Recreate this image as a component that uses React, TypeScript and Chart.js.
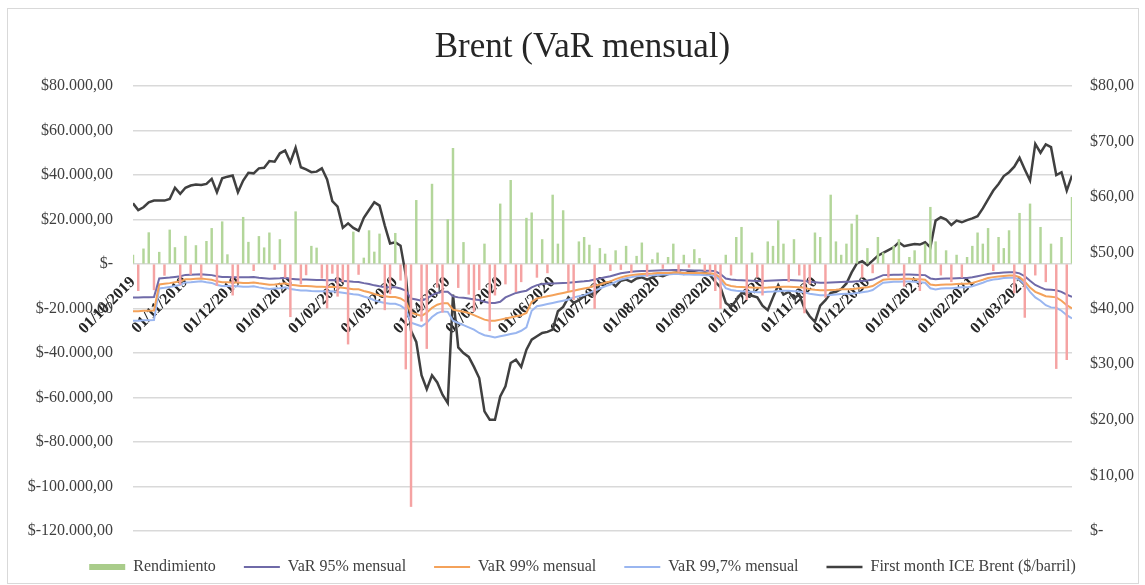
import React, { useEffect, useRef } from 'react';
import { Chart, registerables } from 'chart.js';

Chart.register(...registerables);

// Month tick labels (first day of each month)
const monthLabels = [
  '01/10/2019', '01/11/2019', '01/12/2019', '01/01/2020', '01/02/2020', '01/03/2020',
  '01/04/2020', '01/05/2020', '01/06/2020', '01/07/2020', '01/08/2020', '01/09/2020',
  '01/10/2020', '01/11/2020', '01/12/2020', '01/01/2021', '01/02/2021', '01/03/2021',
];

// 10 samples per month, Oct 2019 .. Mar 2021
const rendimiento = [
  4000, -12000, 6800, 14100, -11600, 5300, -5100, 15300, 7400, -9200,
  12500, -4700, 8300, -6200, 10200, 16000, -9700, 19000, 4200, -14000,
  -8000, 21000, 9800, -3000, 12400, 7300, 14000, -2500, 11000, -6000,
  -23700, 23500, -9000, -4900, 8000, 7200, -6400, -19800, -4200, -14500,
  -8000, -36000, 14400, -4700, 2700, 15000, 5400, 13500, -20600, -13400,
  13800, -7300, -47200, -109000, 28600, -25700, -38000, 35900, -10500, -21700,
  20000, 52000, -10600, 9700, -13600, -21400, -11600, 9000, -30000, -14000,
  27000, -9000, 37600, -12500, -8000, 20600, 23000, -6000, 11000, -4000,
  31000, 9000, 24000, -12000, -16000, 10000, 12000, 8500, -20000, 7000,
  4500, -3000, 6000, -2500, 8000, -4000, 3500, 9500, -5500, 2000,
  5000, -2000, 3000, 9000, -3500, 4000, -1500, 6500, 2500, -3000,
  -4000, -12000, -20000, 4000, -5000, 12000, 16500, -16000, 5000, -6000,
  -14000, 10000, 8000, 19500, 9000, -8000, 11000, -5000, -22000, -9000,
  14000, 12000, -15000, 31000, 10000, 4000, 9000, 18000, 22000, -6000,
  7000, -4000, 12000, 5000, -6000, 8000, 11000, -10000, 3000, 6000,
  -12000, 9000, 25500, 10000, -5000, 6000, -8000, 4000, -6000, 3000,
  8000, 14000, 9000, 16000, -3000, 12000, 7000, 15000, -13000, 22800,
  -24000, 27000, -5000, 16500, -8000, 9000, -47000, 12000, -43000, 30000,
];

const var95 = [
  -15000, -15000, -14900, -14900, -14800, -6500, -6300, -6100, -5800, -5500,
  -4900, -4800, -4700, -4600, -4800, -5000, -5500, -5800, -5800, -5900,
  -5900, -6000, -6000, -5900, -6200, -6400, -6600, -6500, -6400, -6200,
  -6600, -6800, -7000, -7000, -7100, -7200, -7200, -7300, -7200, -7400,
  -7600, -7800, -8000, -8100, -8600, -9000, -9600, -10000, -10300, -10500,
  -10500, -11000, -12000, -15500, -16000, -16500, -15500, -14000, -13000, -12500,
  -12500, -14500, -15000, -15200, -15500, -16000, -16200, -17000, -17500, -17500,
  -17000, -15000, -14000, -13000, -12500, -12000, -10500, -9500, -9000, -8800,
  -8800, -8600, -8500, -8400, -8200, -8000, -7800, -7500, -7000, -6500,
  -6000, -5500, -4800, -4200, -3800, -3500, -3300, -3200, -3100, -3000,
  -2900, -2800, -2800, -2700, -2700, -2800, -2800, -2900, -2900, -3000,
  -3000, -3200, -4500, -6500, -7000, -7200, -7300, -7400, -7500, -7600,
  -7600, -7500, -7400, -7300, -7200, -7200, -7300, -7400, -7600, -8000,
  -8200, -8400, -8400, -8300, -8200, -8100, -8000, -8000, -7800, -7600,
  -7400, -7000, -6000, -5000, -4900, -4800, -4800, -4700, -4700, -4800,
  -4900, -5000, -6500, -6800, -6600, -6500, -6500, -6400, -6300, -6300,
  -6000, -5500, -5000, -4500, -4200, -4000, -3800, -3700, -3700, -4200,
  -5500, -7500, -9400, -10500, -11500, -11600, -11800, -12500, -13800, -14800,
];

const var99 = [
  -21200, -21200, -21000, -21000, -20900, -9200, -8900, -8600, -8200, -7800,
  -6900, -6800, -6600, -6500, -6800, -7100, -7800, -8200, -8200, -8300,
  -8300, -8500, -8500, -8300, -8700, -9000, -9300, -9200, -9000, -8700,
  -9300, -9600, -9900, -9900, -10000, -10200, -10200, -10300, -10200, -10400,
  -10700, -11000, -11300, -11400, -12100, -12700, -13500, -14100, -14500, -14800,
  -14800, -15500, -16900, -21900, -22600, -23300, -21900, -19700, -18300, -17600,
  -17600, -20500, -21000, -21500, -22000, -23000, -24000, -25000, -25500, -25500,
  -25000, -24500, -24000, -23500, -23000, -22000, -17000, -15500, -15000, -14500,
  -14000, -13500, -13000, -12500, -12000, -11500, -11000, -10500, -9800, -9200,
  -8400, -7800, -6800, -6000, -5400, -5000, -4700, -4500, -4400, -4300,
  -4100, -4000, -4000, -3800, -3800, -4000, -4000, -4100, -4100, -4200,
  -4200, -4500, -6300, -9200, -9900, -10200, -10300, -10400, -10600, -10700,
  -10700, -10600, -10400, -10300, -10200, -10200, -10300, -10400, -10700, -11300,
  -11600, -11800, -11800, -11700, -11600, -11400, -11300, -11300, -11000, -10700,
  -10400, -9900, -8500, -7100, -6900, -6800, -6800, -6600, -6600, -6800,
  -6900, -7100, -9200, -9600, -9300, -9200, -9200, -9000, -8900, -8900,
  -8500, -7800, -7100, -6300, -5900, -5600, -5400, -5200, -5200, -5900,
  -7800, -10600, -12500, -13500, -14500, -14700, -15000, -16500, -18500, -20000,
];

const var997 = [
  -25500, -25500, -25300, -25300, -25200, -11000, -10700, -10300, -9900, -9400,
  -8300, -8200, -8000, -7800, -8200, -8500, -9400, -9900, -9900, -10000,
  -10000, -10200, -10200, -10000, -10500, -10900, -11200, -11000, -10900, -10500,
  -11200, -11600, -11900, -11900, -12100, -12200, -12200, -12400, -12200, -12600,
  -12900, -13300, -13600, -13800, -14600, -15300, -16300, -17000, -17500, -17900,
  -17900, -18700, -20400, -26400, -27200, -28000, -26400, -23800, -22100, -21300,
  -21500, -25500, -26500, -27500, -28500, -29500, -31000, -32000, -32500, -33000,
  -32500, -32000, -31500, -31000, -30000, -28500, -21000, -19000, -18500, -18000,
  -17500, -17000, -16500, -16000, -15000, -14500, -14000, -13000, -12000, -11000,
  -10000, -9200, -8000, -7000, -6400, -5900, -5500, -5300, -5200, -5100,
  -4900, -4700, -4700, -4500, -4500, -4700, -4700, -4800, -4800, -5000,
  -5000, -5300, -7500, -10900, -11700, -12000, -12200, -12400, -12500, -12700,
  -12700, -12500, -12400, -12200, -12000, -12000, -12200, -12400, -12700, -13400,
  -13700, -14000, -14000, -13900, -13700, -13500, -13400, -13400, -13000, -12700,
  -12400, -11700, -10000, -8400, -8200, -8000, -8000, -7900, -7900, -8000,
  -8200, -8400, -10900, -11400, -11000, -10900, -10900, -10700, -10500, -10500,
  -10000, -9200, -8400, -7500, -7000, -6700, -6300, -6200, -6200, -7000,
  -9200, -12500, -15000, -16500, -18500, -19500, -19700, -21000, -23000, -24500,
];

const brent = [
  58.9, 57.7, 58.2, 59.1, 59.4, 59.4, 59.4, 59.7, 61.7, 60.6,
  61.7, 62.1, 62.3, 62.2, 62.4, 63.3, 60.9, 63.4, 63.7, 63.9,
  60.9, 63.0, 64.4, 64.3, 65.2, 65.3, 66.5, 66.4, 67.9, 68.4,
  66.3, 68.9, 65.4, 65.0, 64.5, 64.6, 65.2, 63.2, 59.3, 58.3,
  54.5, 55.3, 54.5, 54.0, 56.3, 57.7, 59.1, 58.5, 54.9, 51.7,
  51.9, 51.3, 46.0, 36.0, 34.0, 28.0, 25.5, 28.0, 26.7, 24.5,
  23.0, 42.5, 33.0, 32.0, 31.3, 29.5, 27.5, 21.5, 20.0, 20.0,
  24.2, 26.0, 30.2, 30.8, 29.5, 32.6, 34.4, 35.0, 35.6, 35.8,
  36.2, 39.5, 40.3, 42.0, 41.0, 41.5, 42.2, 42.8, 42.3, 44.5,
  44.5, 44.8, 44.0, 45.0, 45.2, 44.8, 45.4, 45.6, 45.2, 45.6,
  46.0, 45.8, 46.2, 46.4, 46.5, 46.2, 46.6, 46.5, 46.3, 46.4,
  46.0, 44.8, 43.8, 41.0, 40.3, 41.5, 42.8, 42.5, 42.3, 42.0,
  40.5, 39.7, 42.0, 44.2, 42.5, 43.0, 41.8, 42.5, 40.0, 38.6,
  37.6, 40.5, 41.5, 42.8, 43.0, 43.5, 44.5, 46.5, 48.1, 48.5,
  47.8, 48.6, 49.5, 50.0, 50.5, 51.0, 51.9, 51.2, 51.4, 51.6,
  51.5, 51.9, 51.0, 55.8, 56.4, 56.0, 55.0, 55.8, 55.5, 55.9,
  56.2, 56.6, 58.0, 59.6, 61.2, 62.4, 63.8, 64.5, 65.5, 67.1,
  65.0, 63.0, 69.6, 68.0, 69.5, 69.0, 64.0, 64.5, 61.2, 63.9,
];

const SAMPLES_PER_MONTH = 10;
const FONT = 'Liberation Serif';

const fmtLeft = (v: number) => {
  if (v === 0) return '$-';
  const s = Math.abs(v).toFixed(0).replace(/\B(?=(\d{3})+(?!\d))/g, '.');
  return '$' + (v < 0 ? '-' : '') + s + ',00';
};
const fmtRight = (v: number) => (v === 0 ? '$-' : '$' + v + ',00');

const toPoints = (arr: number[]) => arr.map((y, i) => ({ x: i / SAMPLES_PER_MONTH, y }));

const GREEN = '#b3d69a';
const LEGEND_GREEN = '#a9cc8a';
const RED = '#f5a3a3';
const C95 = '#6f6aa8';
const C99 = '#f4a25a';
const C997 = '#9ab6f0';
const CBRENT = '#404040';

export default function App() {
  const ref = useRef<HTMLCanvasElement | null>(null);

  useEffect(() => {
    if (!ref.current) return;
    const lineStyles = [
      { color: C95, width: 2 },
      { color: C99, width: 2 },
      { color: C997, width: 2 },
      { color: CBRENT, width: 2.5 },
    ];
    const chart = new Chart(ref.current, {
      type: 'bar',
      data: {
        datasets: [
          {
            type: 'bar',
            label: 'Rendimiento',
            data: toPoints(rendimiento),
            backgroundColor: rendimiento.map((v) => (v >= 0 ? GREEN : RED)),
            borderWidth: 0,
            barThickness: 1.8,
            yAxisID: 'y',
            xAxisID: 'x',
          } as any,
          {
            type: 'line',
            label: 'VaR 95% mensual',
            data: toPoints(var95),
            borderColor: C95,
            borderWidth: 2,
            pointRadius: 0,
            yAxisID: 'y',
          },
          {
            type: 'line',
            label: 'VaR 99% mensual',
            data: toPoints(var99),
            borderColor: C99,
            borderWidth: 2,
            pointRadius: 0,
            yAxisID: 'y',
          },
          {
            type: 'line',
            label: 'VaR 99,7% mensual',
            data: toPoints(var997),
            borderColor: C997,
            borderWidth: 2,
            pointRadius: 0,
            yAxisID: 'y',
          },
          {
            type: 'line',
            label: 'First month ICE Brent ($/barril)',
            data: toPoints(brent),
            borderColor: CBRENT,
            borderWidth: 2.5,
            pointRadius: 0,
            yAxisID: 'y1',
          },
        ],
      },
      options: {
        responsive: false,
        animation: false,
        events: [],
        layout: { padding: { left: 20, right: 0, top: 0, bottom: 0 } },
        scales: {
          x: {
            type: 'linear',
            position: { y: 0 } as any,
            min: 0,
            max: 17.9,
            offset: false,
            z: 1,
            afterBuildTicks: (s: any) => {
              s.ticks = monthLabels.map((_, i) => ({ value: i }));
            },
            ticks: {
              autoSkip: false,
              minRotation: 45,
              maxRotation: 45,
              padding: 9,
              color: '#262626',
              font: { family: FONT, size: 16, weight: 'bold' },
              callback: (v: any) => monthLabels[v] ?? '',
            },
            grid: { display: false, drawTicks: false, offset: false },
            border: { display: false },
          },
          y: {
            position: 'left',
            min: -120000,
            max: 80000,
            ticks: {
              stepSize: 20000,
              padding: 20,
              color: '#404040',
              font: { family: FONT, size: 16 },
              callback: (v: any) => fmtLeft(Number(v)),
            },
            grid: { color: '#d9d9d9', lineWidth: 1.5, drawTicks: false },
            border: { display: false },
            afterFit: (s: any) => {
              s.width = 113;
            },
          },
          y1: {
            position: 'right',
            min: 0,
            max: 80,
            ticks: {
              stepSize: 10,
              padding: 18,
              color: '#404040',
              font: { family: FONT, size: 16 },
              callback: (v: any) => fmtRight(Number(v)),
            },
            grid: { display: false, drawTicks: false },
            border: { display: false },
            afterFit: (s: any) => {
              s.width = 73;
            },
          },
        },
        plugins: {
          tooltip: { enabled: false },
          title: {
            display: true,
            text: 'Brent (VaR mensual)',
            color: '#262626',
            font: { family: FONT, size: 35, weight: 'normal' },
            padding: { top: 27, bottom: 17 },
          },
          legend: {
            position: 'bottom',
            labels: {
              usePointStyle: true,
              pointStyleWidth: 36,
              boxHeight: 6,
              padding: 28,
              color: '#404040',
              font: { family: FONT, size: 16 },
              generateLabels: (c: any) => {
                const items = Chart.defaults.plugins.legend.labels.generateLabels(c);
                items.forEach((it: any, i: number) => {
                  if (i === 0) {
                    it.fillStyle = LEGEND_GREEN;
                    it.strokeStyle = LEGEND_GREEN;
                    it.lineWidth = 0;
                    it.pointStyle = 'rect';
                  } else {
                    const st = lineStyles[i - 1];
                    it.fillStyle = st.color;
                    it.strokeStyle = st.color;
                    it.lineWidth = st.width;
                    it.pointStyle = 'line';
                  }
                });
                return items;
              },
            },
          },
        },
      } as any,
    });
    return () => chart.destroy();
  }, []);

  return (
    <div style={{ position: 'fixed', left: 0, top: 0, width: 1145, height: 585, background: '#fff' }}>
      <div
        style={{
          position: 'absolute',
          left: 7,
          top: 8,
          width: 1132,
          height: 576,
          border: '1px solid #d9d9d9',
          boxSizing: 'border-box',
        }}
      />
      <canvas ref={ref} width={1145} height={585} style={{ position: 'absolute', left: 0, top: 0 }} />
    </div>
  );
}
